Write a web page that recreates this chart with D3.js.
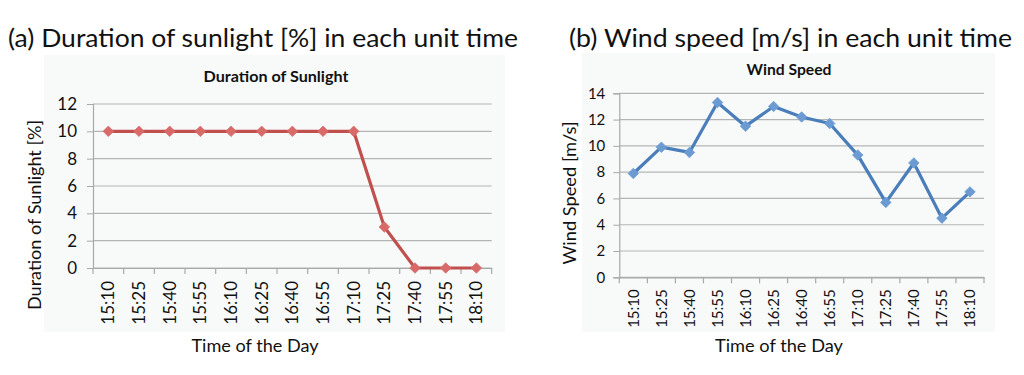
<!DOCTYPE html>
<html>
<head>
<meta charset="utf-8">
<script src="https://cdn.jsdelivr.net/npm/d3@7"></script>
<style>
  body { margin: 0; background: #fff; }
  svg { display: block; font-family: Lato, "Open Sans", sans-serif; }
</style>
</head>
<body>
<svg id="chart" width="1024" height="375"></svg>
<script>
const times = ["15:10", "15:25", "15:40", "15:55", "16:10", "16:25", "16:40", "16:55", "17:10", "17:25", "17:40", "17:55", "18:10"];
const sunlight = [10, 10, 10, 10, 10, 10, 10, 10, 10, 3, 0, 0, 0];
const windSpeed = [7.9, 9.9, 9.5, 13.3, 11.5, 13.0, 12.2, 11.7, 9.3, 5.7, 8.7, 4.5, 6.5];
const sunTicks = [0, 2, 4, 6, 8, 10, 12];
const windTicks = [0, 2, 4, 6, 8, 10, 12, 14];

const svg = d3.select("#chart");

function drawPanel(cfg) {
  const g = svg.append("g");

  // light panel background
  g.append("rect")
    .attr("x", cfg.panel[0]).attr("y", cfg.panel[1])
    .attr("width", cfg.panel[2] - cfg.panel[0])
    .attr("height", cfg.panel[3] - cfg.panel[1])
    .attr("fill", "#f8fafa");

  // big heading above the panel
  g.append("text")
    .attr("x", cfg.heading.x).attr("y", cfg.heading.y)
    .attr("textLength", cfg.heading.w)
    .attr("lengthAdjust", "spacingAndGlyphs")
    .style("font-size", "25px")
    .style("fill", "#111")
    .text(cfg.heading.text);

  g.append("text")
    .attr("x", cfg.title.x).attr("y", cfg.title.y)
    .attr("text-anchor", "middle")
    .attr("textLength", cfg.title.w)
    .attr("lengthAdjust", "spacingAndGlyphs")
    .style("font-size", "15px")
    .style("font-weight", "bold")
    .style("fill", "#111")
    .text(cfg.title.text);

  const x = d3.scaleBand().domain(times).range(cfg.xr);
  const y = d3.scaleLinear().domain(cfg.ydom).range(cfg.yr);

  // gridlines
  g.selectAll(".grid")
    .data(cfg.ticks)
    .join("line")
    .attr("x1", cfg.xr[0]).attr("x2", cfg.xr[1])
    .attr("y1", d => y(d)).attr("y2", d => y(d))
    .attr("stroke", "#b4b4b4")
    .attr("stroke-width", 1.2);

  // y axis
  const yAxis = g.append("g")
    .attr("transform", `translate(${cfg.xr[0]},0)`)
    .call(d3.axisLeft(y).tickValues(cfg.ticks).tickSize(6).tickPadding(cfg.yPad));
  yAxis.select(".domain").attr("stroke", "#a8a8a8").attr("stroke-width", 1.2);
  yAxis.selectAll(".tick line").attr("stroke", "#a8a8a8");
  yAxis.selectAll("text")
    .style("font-size", cfg.tickFont)
    .style("font-family", "Lato, sans-serif")
    .attr("fill", "#111");

  // x axis with ticks on category boundaries
  const xAxis = g.append("g")
    .attr("transform", `translate(0,${cfg.yr[0]})`)
    .call(d3.axisBottom(x).tickSize(0).tickPadding(0));
  xAxis.select(".domain").attr("stroke", "#a8a8a8").attr("stroke-width", 1.2);
  xAxis.selectAll(".tick line").remove();
  xAxis.selectAll("text")
    .attr("transform", "rotate(-90)")
    .attr("x", -cfg.labelGap)
    .attr("y", 0)
    .attr("dy", "0.35em")
    .style("text-anchor", "end")
    .style("font-size", cfg.tickFont)
    .style("font-family", "Lato, sans-serif")
    .attr("fill", "#111");
  g.selectAll(".xtick")
    .data(times.concat(["end"]))
    .join("line")
    .attr("x1", (d, i) => cfg.xr[0] + i * x.step())
    .attr("x2", (d, i) => cfg.xr[0] + i * x.step())
    .attr("y1", cfg.yr[0]).attr("y2", cfg.yr[0] + 6)
    .attr("stroke", "#a8a8a8")
    .attr("stroke-width", 1.2);

  // series line
  const line = d3.line()
    .x((d, i) => x(times[i]) + x.bandwidth() / 2)
    .y(d => y(d));
  g.append("path")
    .datum(cfg.values)
    .attr("d", line)
    .attr("fill", "none")
    .attr("stroke", cfg.color)
    .attr("stroke-width", 3.2)
    .attr("stroke-linejoin", "round");

  g.selectAll(".marker")
    .data(cfg.values)
    .join("path")
    .attr("d", d3.symbol(d3.symbolDiamond2, 70))
    .attr("transform", (d, i) => `translate(${x(times[i]) + x.bandwidth() / 2},${y(d)})`)
    .attr("fill", cfg.marker)
    .attr("stroke", cfg.marker)
    .attr("stroke-width", 0.8);

  // axis titles
  g.append("text")
    .attr("x", cfg.xTitle.x).attr("y", cfg.xTitle.y)
    .attr("text-anchor", "middle")
    .attr("textLength", cfg.xTitle.w)
    .attr("lengthAdjust", "spacingAndGlyphs")
    .style("font-size", "17px")
    .style("fill", "#111")
    .text("Time of the Day");

  g.append("text")
    .attr("transform", `translate(${cfg.yTitle.x},${cfg.yTitle.y}) rotate(-90)`)
    .attr("text-anchor", "middle")
    .attr("textLength", cfg.yTitle.w)
    .attr("lengthAdjust", "spacingAndGlyphs")
    .style("font-size", "17px")
    .style("fill", "#111")
    .text(cfg.yTitle.text);
}

drawPanel({
  panel: [44, 55, 505, 332],
  heading: { x: 8, y: 47, w: 510, text: "(a) Duration of sunlight [%] in each unit time" },
  title: { x: 276, y: 82, w: 145, text: "Duration of Sunlight" },
  xr: [93, 491.7],
  yr: [268, 104],
  ydom: [0, 12],
  ticks: sunTicks,
  values: sunlight,
  color: "#c0504d",
  marker: "#d86b69",
  tickFont: "17px",
  yPad: 10,
  labelGap: 13,
  xTitle: { x: 255, y: 352, w: 127 },
  yTitle: { x: 41, y: 215, w: 190, text: "Duration of Sunlight [%]" }
});

drawPanel({
  panel: [582, 53, 995, 332],
  heading: { x: 569, y: 47, w: 443, text: "(b) Wind speed [m/s] in each unit time" },
  title: { x: 789, y: 75, w: 85, text: "Wind Speed" },
  xr: [619.3, 984],
  yr: [277.3, 93.3],
  ydom: [0, 14],
  ticks: windTicks,
  values: windSpeed,
  color: "#4a7ebb",
  marker: "#6b9bd2",
  tickFont: "15px",
  yPad: 8,
  labelGap: 12,
  xTitle: { x: 779, y: 352, w: 128 },
  yTitle: { x: 576, y: 193, w: 143, text: "Wind Speed [m/s]" }
});
</script>
</body>
</html>
